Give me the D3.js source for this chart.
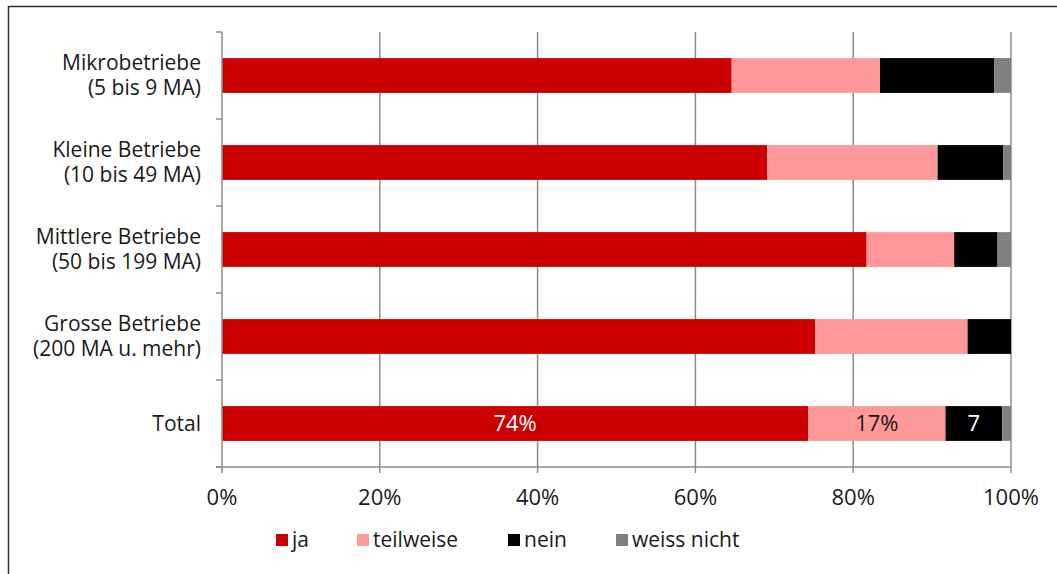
<!DOCTYPE html>
<html><head><meta charset="utf-8">
<script src="https://cdn.jsdelivr.net/npm/d3@7"></script>
<style>
html,body{margin:0;padding:0;background:#fff;}
svg{display:block;font-family:"Open Sans","Noto Sans",sans-serif;}
</style></head>
<body>
<svg id="chart" width="1057" height="574"></svg>
<script>
const categories = [
  ["Mikrobetriebe","(5 bis 9 MA)"],
  ["Kleine Betriebe","(10 bis 49 MA)"],
  ["Mittlere Betriebe","(50 bis 199 MA)"],
  ["Grosse Betriebe","(200 MA u. mehr)"],
  ["Total"]
];
const seriesNames = ["ja","teilweise","nein","weiss nicht"];
const seriesColors = ["#CC0000","#FF9999","#000000","#808080"];
const ja         = [64.6, 69.1, 81.7, 75.2, 74.3];
const teilweise  = [18.8, 21.6, 11.1, 19.3, 17.4];
const nein       = [14.5,  8.3,  5.5,  5.5,  7.2];
const weissNicht = [ 2.1,  1.0,  1.7,  0.0,  1.1];
const totalLabels = ["74%","17%","7",""];
const xTicks = [0,20,40,60,80,100];

const svg = d3.select("#chart");
// outer frame
svg.append("path").attr("d","M8.5,574 L8.5,6.5 L1057,6.5")
  .attr("fill","none").attr("stroke","#333").attr("stroke-width",1.5);

const mLeft = 222, mRight = 1011, mTop = 32, mBottom = 467;
const x = d3.scaleLinear().domain([0,100]).range([mLeft,mRight]);
const keys = categories.map((c,i)=>i);
const y = d3.scaleBand().domain(keys).range([mTop,mBottom]).paddingInner(0).paddingOuter(0);
const barH = y.bandwidth()*0.4;

// gridlines
svg.append("g").selectAll("line").data(xTicks.filter(t=>t>0)).join("line")
  .attr("x1",d=>x(d)).attr("x2",d=>x(d)).attr("y1",mTop).attr("y2",mBottom)
  .attr("stroke","#8c8c8c").attr("stroke-width",1.5);

// stacked data
const seriesVals = [ja,teilweise,nein,weissNicht];
const rows = keys.map(i=>{const o={i}; seriesNames.forEach((s,k)=>o[s]=seriesVals[k][i]); return o;});
const stacked = d3.stack().keys(seriesNames)(rows);

const g = svg.append("g");
stacked.forEach((layer,k)=>{
  g.selectAll(null).data(layer).join("rect")
    .attr("x",d=>x(d[0])).attr("width",d=>Math.max(0,x(d[1])-x(d[0])))
    .attr("y",d=>y(d.data.i)+(y.bandwidth()-barH)/2).attr("height",barH)
    .attr("fill",seriesColors[k]);
});

// labels on Total row
const ti = keys.length-1;
totalLabels.forEach((lab,k)=>{
  if(!lab) return;
  const seg = stacked[k][ti];
  svg.append("text").attr("x",(x(seg[0])+x(seg[1]))/2)
    .attr("y",y(ti)+y.bandwidth()/2).attr("dy","0.35em")
    .attr("text-anchor","middle").attr("font-size",22)
    .attr("fill", k===1 ? "#1a1a1a" : "#fff").text(lab);
});

// y axis
svg.append("line").attr("x1",mLeft).attr("x2",mLeft).attr("y1",mTop).attr("y2",mBottom)
  .attr("stroke","#8c8c8c").attr("stroke-width",1.5);
const yTickPos = keys.map(i=>y(i)).concat([mBottom]);
svg.append("g").selectAll("line").data(yTickPos).join("line")
  .attr("x1",mLeft-6).attr("x2",mLeft).attr("y1",d=>d).attr("y2",d=>d)
  .attr("stroke","#8c8c8c").attr("stroke-width",1.5);

// category labels
categories.forEach((lines,i)=>{
  const cy = y(i)+y.bandwidth()/2;
  const lh = 25;
  const t = svg.append("text").attr("text-anchor","end").attr("font-size",21).attr("fill","#1a1a1a");
  lines.forEach((ln,j)=>{
    t.append("tspan").attr("x",201).attr("y",cy+(j-(lines.length-1)/2)*lh).attr("dy","0.35em").text(ln);
  });
});

// x axis
svg.append("line").attr("x1",mLeft-6).attr("x2",mRight).attr("y1",mBottom).attr("y2",mBottom)
  .attr("stroke","#8c8c8c").attr("stroke-width",1.5);
svg.append("g").selectAll("line").data(xTicks).join("line")
  .attr("x1",d=>x(d)).attr("x2",d=>x(d)).attr("y1",mBottom).attr("y2",mBottom+6)
  .attr("stroke","#8c8c8c").attr("stroke-width",1.5);
svg.append("g").selectAll("text").data(xTicks).join("text")
  .attr("x",d=>x(d)).attr("y",497).attr("dy","0.35em").attr("text-anchor","middle")
  .attr("font-size",22).attr("fill","#1a1a1a").text(d=>d+"%");

// legend
const legendX = [276,357,508,616];
seriesNames.forEach((s,k)=>{
  svg.append("rect").attr("x",legendX[k]).attr("y",534).attr("width",12).attr("height",12).attr("fill",seriesColors[k]);
  svg.append("text").attr("x",legendX[k]+16).attr("y",540).attr("dy","0.35em")
    .attr("font-size",21).attr("fill","#1a1a1a").text(s);
});
</script>
</body></html>
